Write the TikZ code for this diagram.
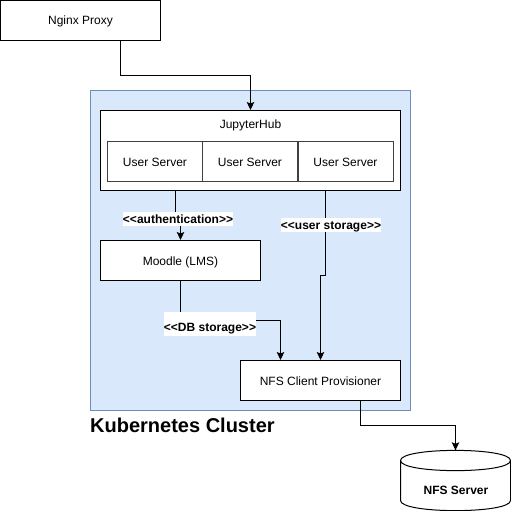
\documentclass[tikz,border=0pt]{standalone}
\usepackage{fontspec}
\setmainfont{Liberation Sans}
\usetikzlibrary{arrows.meta}
\definecolor{clusterfill}{HTML}{DAE8FC}
\definecolor{clusterline}{HTML}{6C8EBF}
\newcommand{\opentag}{<\kern0pt<}
\newcommand{\closetag}{>\kern0pt>}
\tikzset{
	plaintext/.style={font=\fontsize{12}{14}\selectfont, text height=9pt, text depth=0pt},
	box/.style={plaintext, draw=black, fill=white, line width=1pt, inner sep=0pt, minimum width=160pt, minimum height=40pt},
	userbox/.style={box, draw=black!75, minimum width=95pt},
	tag/.style={fill=white, inner sep=0pt, minimum height=14pt, font=\fontsize{12}{14}\selectfont\bfseries, text height=9.5pt, text depth=0pt},
	link/.style={line width=1pt, -{Stealth[length=8pt,width=7.5pt,inset=1.5pt]}},
}

\begin{document}
\begin{tikzpicture}[x=1pt, y=-1pt]
	\useasboundingbox (0,0) rectangle (511,511);
	
	\node[draw=clusterline, fill=clusterfill, line width=1pt, inner sep=0pt, minimum width=320pt, minimum height=320pt] (cluster) at (250.5,250.5) {};
	\node[anchor=west, inner sep=0pt, font=\fontsize{20}{24}\selectfont\bfseries] (clustername) at (90,425.5) {Kubernetes Cluster};
	
	\node[box] (nginx) at (80.5,20.5) {Nginx Proxy};
	
	\node[box, minimum width=300pt, minimum height=80pt] (hub) at (250.5,150.5) {};
	\node[plaintext, inner sep=0pt] (hubname) at (250.5,123.5) {JupyterHub};
	\node[userbox] (serverA) at (155,161.5) {User Server};
	\node[userbox] (serverB) at (250,161.5) {User Server};
	\node[userbox] (serverC) at (345.5,161.5) {User Server};
	
	\node[box] (moodle) at (180.5,260.5) {Moodle (LMS)};
	\node[box] (provisioner) at (320.5,380.5) {NFS Client Provisioner};
	
	% cylinder by hand
	\node[inner sep=0pt, minimum width=110pt, minimum height=60pt] (nfs) at (455.5,480.5) {};
	\draw[line width=1pt, fill=white] (400.5,460.5) .. controls (400.5,447) and (510.5,447) .. (510.5,460.5) -- (510.5,500.5) .. controls (510.5,514) and (400.5,514) .. (400.5,500.5) -- cycle;
	\draw[line width=1pt] (400.5,460.5) .. controls (400.5,474) and (510.5,474) .. (510.5,460.5);
	\node[inner sep=0pt, font=\fontsize{12}{14}\selectfont\bfseries] (nfsname) at (456,490) {NFS Server};
	
	% connectors
	\draw[link] ([xshift=40pt]nginx.south) |- (250.5,75) -- (hub.north);
	\draw[link] ([xshift=-75pt]hub.south) -- (175.5,219) -- (180.5,219) -- (moodle.north);
	\draw[link] ([xshift=75pt]hub.south) -- (325.5,275) -- (320.5,275) -- (provisioner.north);
	\draw[link] (moodle.south) |- (280.5,320.5) -- ([xshift=-40pt]provisioner.north);
	\draw[link] ([xshift=40pt]provisioner.south) |- (455.5,425.5) -- (nfs.north);
	
	\node[tag] (authtag) at (178,219) {\opentag authentication\closetag};
	\node[tag] (usertag) at (331,225) {\opentag user storage\closetag};
	\node[tag, minimum height=24pt, minimum width=92pt, text height=14pt] (dbtag) at (210,324) {\opentag DB storage\closetag};
\end{tikzpicture}
\end{document}
